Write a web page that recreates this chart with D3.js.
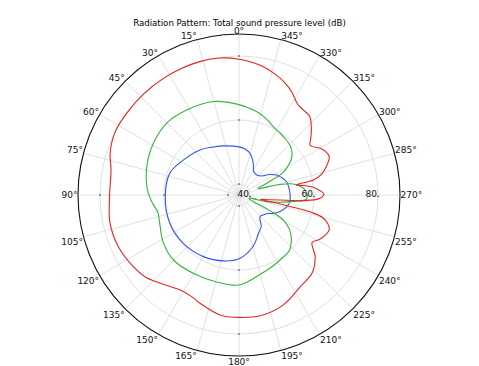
<!DOCTYPE html>
<html>
<head>
<meta charset="utf-8">
<script src="https://cdn.jsdelivr.net/npm/d3@7"></script>
<style>
  html, body { margin: 0; padding: 0; background: #fff; }
  svg { display: block; font-family: "DejaVu Sans", sans-serif; }
</style>
</head>
<body>
<div id="chart"></div>
<script>
// data: angle in degrees (counter-clockwise from top), level in dB
const TITLE = "Radiation Pattern: Total sound pressure level (dB)";
const RADIAL_TICKS = [40, 60, 80];
const ANGLE_TICKS = d3.range(0, 360, 15);

const redAngles = [0, 8, 16, 24, 32, 43, 54, 63, 72, 79, 90, 102, 113, 124, 131, 138, 148, 155, 160, 171,
  180, 190, 202, 214, 223, 231, 237, 241, 245, 249, 252, 255, 256.5, 257.2, 257.8, 258.4,
  261, 263, 264.7, 266.8, 268.5, 270.7, 272.3, 274, 275.9, 278, 280,
  281.4, 284, 287.5, 293, 297, 300, 305, 308, 312, 318, 323, 327, 333, 338, 343, 351];
const redLevels = [79.0, 79.8, 80.6, 82.0, 83.2, 83.5, 82.6, 81.2, 78.9, 77.3, 77.0, 77.8, 77.6, 76.5, 75.5, 73.6, 71.5, 71.6, 72.5, 74.5,
  74.8, 74.9, 73.6, 71.0, 70.0, 67.2, 63.8, 65.3, 66.3, 66.8, 65.8, 63.5, 60.0, 55.0, 49.0, 43.3,
  46.0, 49.5, 55.7, 60.9, 62.5, 63.1, 62.4, 61.3, 59.9, 57.5, 54.7,
  60.3, 63.0, 65.0, 67.2, 66.8, 65.8, 63.7, 65.0, 67.0, 69.6, 69.9, 70.3, 72.8, 74.5, 75.9, 77.7];

const greenAngles = [0, 15, 31, 45, 59, 73, 87, 95, 102, 110, 122, 135, 150, 165, 180, 195, 205, 212, 222, 231,
  236, 240.6, 243, 246, 249, 253, 256.6, 260, 262.6, 265.7, 268, 270.8, 273, 276, 281.5, 284.9, 288.9,
  293, 297, 300, 304, 308, 314, 320, 327, 333, 340, 346, 353];
const greenLevels = [64.8, 66.8, 67.7, 68.4, 67.8, 66.7, 65.2, 63.8, 62.5, 62.9, 64.5, 65.4, 64.9, 64.6, 64.7, 62.2, 61.2, 60.6, 60.0, 57.6,
  55.5, 52.5, 47.5, 41.0, 37.0, 40.0, 45.5, 49.5, 52.6, 57.3, 57.9, 57.8, 57.5, 56.8, 53.9, 48.8, 42.8,
  46.0, 52.0, 54.0, 56.2, 57.6, 58.8, 59.3, 59.8, 60.4, 61.8, 62.9, 63.8];

const blueAngles = [0, 18, 30, 41, 58, 72, 90, 112, 131, 150, 167, 180, 195, 207, 215.6, 220, 224, 230, 236, 242,
  248, 258.5, 265, 272, 279, 285.6, 292, 298, 304, 310, 318.5, 324, 328.5, 335.7, 345, 352];
const blueLevels = [51.6, 52.7, 53.8, 55.2, 57.1, 59.2, 59.6, 59.9, 59.6, 58.8, 57.7, 56.5, 53.3, 50.0, 48.5, 46.8, 46.0, 46.3, 47.0, 48.8,
  50.4, 52.3, 52.6, 52.5, 52.3, 52.0, 51.0, 49.9, 48.0, 45.8, 44.9, 45.0, 45.3, 47.4, 50.0, 51.0];

const SERIES = [
  { name: "blue", color: "#2f55f0", angles: blueAngles, levels: blueLevels },
  { name: "green", color: "#35b43a", angles: greenAngles, levels: greenLevels },
  { name: "red", color: "#e8231f", angles: redAngles, levels: redLevels }
];

const width = 479, height = 366;
const cx = 239, cy = 195, outerR = 161;
const fontSize = 9;

const svg = d3.select("#chart").append("svg")
  .attr("width", width)
  .attr("height", height);

// radial scale: 40 dB sits a little off the centre, like the reference
const r = d3.scaleLinear().domain([40, 80]).range([11, 139]).clamp(true);
const rad = deg => deg * Math.PI / 180;
// screen position for angle (ccw from top) and radius
const px = (deg, rr) => cx - rr * Math.sin(rad(deg));
const py = (deg, rr) => cy - rr * Math.cos(rad(deg));

const g = svg.append("g");

// ---------- grid ----------
g.append("g").selectAll("line")
  .data(ANGLE_TICKS)
  .join("line")
  .attr("x1", cx).attr("y1", cy)
  .attr("x2", d => px(d, outerR)).attr("y2", d => py(d, outerR))
  .attr("stroke", "#dcdcdc")
  .attr("stroke-width", 0.9);

g.append("g").selectAll("circle")
  .data(RADIAL_TICKS)
  .join("circle")
  .attr("cx", cx).attr("cy", cy)
  .attr("r", d => r(d))
  .attr("fill", "none")
  .attr("stroke", "#dcdcdc")
  .attr("stroke-width", 0.9);

// small tick dots on the four main axes
const dots = [];
RADIAL_TICKS.forEach(t => [0, 90, 180, 270].forEach(a => dots.push({ a, t })));
g.append("g").selectAll("circle")
  .data(dots)
  .join("circle")
  .attr("cx", d => px(d.a, r(d.t)))
  .attr("cy", d => py(d.a, r(d.t)) + (d.a === 270 ? 1.5 : 0))
  .attr("r", 0.8)
  .attr("fill", "#333");

// ---------- curves ----------
const line = d3.lineRadial()
  .angle(d => -rad(d[0]))
  .radius(d => r(d[1]))
  .curve(d3.curveCatmullRomClosed.alpha(0.5));

g.append("g")
  .attr("transform", `translate(${cx},${cy})`)
  .selectAll("path")
  .data(SERIES)
  .join("path")
  .attr("d", s => line(s.angles.map((a, i) => [a, s.levels[i]])))
  .attr("fill", "none")
  .attr("stroke", s => s.color)
  .attr("stroke-width", 1.1);

// outer frame
g.append("circle")
  .attr("cx", cx).attr("cy", cy).attr("r", outerR)
  .attr("fill", "none")
  .attr("stroke", "#111")
  .attr("stroke-width", 1.1);

// ---------- labels ----------
svg.append("g").selectAll("text")
  .data(ANGLE_TICKS)
  .join("text")
  .attr("font-size", fontSize)
  .attr("fill", "#111")
  .attr("x", d => {
    const s = Math.sin(rad(d));
    return px(d, outerR) + (s > 0.01 ? -0.5 : s < -0.01 ? 0.5 : 0);
  })
  .attr("y", d => {
    const c = Math.cos(rad(d));
    const y = py(d, outerR);
    if (c > 0.01) return y;
    if (c < -0.01) return y + 8.8;
    return y + 3.4;
  })
  .attr("text-anchor", d => {
    const s = Math.sin(rad(d));
    return s > 0.01 ? "end" : s < -0.01 ? "start" : "middle";
  })
  .text(d => `${d}°`);

svg.append("g").selectAll("text")
  .data(RADIAL_TICKS)
  .join("text")
  .attr("font-size", fontSize)
  .attr("fill", "#111")
  .attr("x", d => cx + r(d) - 1)
  .attr("y", cy + 1.8)
  .attr("text-anchor", "end")
  .text(d => d);

svg.append("text")
  .attr("x", 239.5)
  .attr("y", 25.5)
  .attr("text-anchor", "middle")
  .attr("font-size", 8.6)
  .attr("fill", "#000")
  .text(TITLE);
</script>
</body>
</html>
